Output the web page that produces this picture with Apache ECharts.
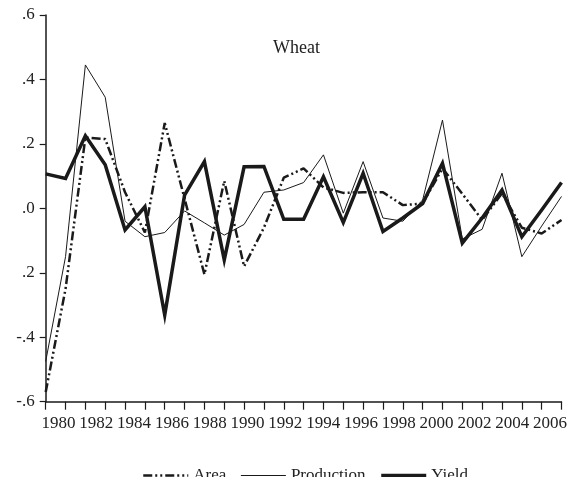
<!DOCTYPE html>
<html>
<head>
<meta charset="utf-8">
<script src="https://cdn.jsdelivr.net/npm/echarts@6/dist/echarts.min.js"></script>
<style>
  html, body { margin: 0; padding: 0; background: #fff; }
  #main { width: 570px; height: 477px; }
</style>
</head>
<body>
<div id="main"></div>
<script>
// years on the x axis
var years = [];
for (var y = 1980; y <= 2006; y++) years.push(String(y));

// growth rates
var area = [-0.57, -0.25, 0.22, 0.215, 0.05, -0.075, 0.265, 0.03, -0.205, 0.085,
  -0.18, -0.06, 0.095, 0.124, 0.065, 0.048, 0.05, 0.05, 0.01, 0.015,
  0.124, 0.045, -0.036, 0.047, -0.06, -0.078, -0.036];
var production = [-0.475, -0.15, 0.445, 0.345, -0.04, -0.088, -0.075, -0.008, -0.045, -0.083,
  -0.05, 0.05, 0.057, 0.08, 0.166, -0.015, 0.145, -0.03, -0.04, 0.026,
  0.274, -0.095, -0.065, 0.109, -0.15, -0.055, 0.037];
var yieldData = [0.107, 0.093, 0.225, 0.135, -0.067, 0.005, -0.331, 0.041, 0.145, -0.16,
  0.129, 0.13, -0.034, -0.034, 0.098, -0.044, 0.109, -0.072, -0.03, 0.015,
  0.14, -0.108, -0.03, 0.057, -0.088, -0.005, 0.08];

// y tick labels as printed (the -.2 one has no minus in the original)
var yTickValues = [6, 4, 2, 0, -2, -4, -6];
var yTickLabels = ['.6', '.4', '.2', '.0', '.2', '-.4', '-.6'];

var font = 'Liberation Serif';
var ink = '#1a1a1a';

// year labels are squeezed a bit, so shift each one slightly
var rich = {};
for (var k = 0; k < 14; k++) {
  var off = 12.8 - 1.87 * k;
  rich['r' + k] = {
    fontFamily: font, fontSize: 17, color: '#222',
    padding: off > 0 ? [0, 0, 0, 2 * off] : [0, -2 * off, 0, 0]
  };
}

var chart = echarts.init(document.getElementById('main'));
var option = {
  animation: false,
  backgroundColor: '#fff',
  title: {
    text: 'Wheat',
    left: 268,
    top: 34,
    textStyle: { fontFamily: font, fontSize: 18, fontWeight: 'normal', color: '#222' }
  },
  legend: {
    left: 137,
    top: 462,
    itemWidth: 45,
    itemHeight: 14,
    itemGap: 14,
    // hide the marker circle, keep the line sample
    itemStyle: { color: 'rgba(0,0,0,0)', borderColor: 'rgba(0,0,0,0)', borderWidth: 0 },
    textStyle: { fontFamily: font, fontSize: 17, color: '#222' },
    data: [
      { name: 'Area', lineStyle: { width: 2.5 } },
      { name: 'Production', lineStyle: { width: 1.2 } },
      { name: 'Yield', lineStyle: { width: 3.5 } }
    ]
  },
  grid: { left: 45.7, right: 7.3, top: 15, bottom: 75.3 },
  xAxis: {
    type: 'category',
    data: years,
    boundaryGap: false,
    axisLine: { onZero: false, lineStyle: { color: ink, width: 1.5 } },
    axisTick: { interval: 0, length: 8, lineStyle: { color: ink, width: 1.2 } },
    axisLabel: {
      interval: 1,
      margin: 13,
      fontFamily: font,
      fontSize: 17,
      color: '#222',
      formatter: function (v, i) { return '{r' + (i / 2) + '|' + v + '}'; },
      rich: rich
    },
    splitLine: { show: false }
  },
  yAxis: {
    type: 'value',
    min: -0.6,
    max: 0.6,
    interval: 0.2,
    axisLine: { show: true, lineStyle: { color: ink, width: 1.5 } },
    axisTick: { show: true, length: 6, lineStyle: { color: ink, width: 1.2 } },
    axisLabel: {
      margin: 11,
      fontFamily: font,
      fontSize: 17,
      color: '#222',
      formatter: function (v) {
        var idx = yTickValues.indexOf(Math.round(v * 10));
        return idx >= 0 ? yTickLabels[idx] : '';
      }
    },
    splitLine: { show: false }
  },
  series: [
    {
      name: 'Area', type: 'line', data: area, symbol: 'none',
      lineStyle: { color: ink, width: 2.5, type: [9, 3, 2, 3, 2, 3], cap: 'butt' },
      itemStyle: { color: ink }
    },
    {
      name: 'Production', type: 'line', data: production, symbol: 'none',
      lineStyle: { color: ink, width: 1 },
      itemStyle: { color: ink }
    },
    {
      name: 'Yield', type: 'line', data: yieldData, symbol: 'none',
      lineStyle: { color: ink, width: 3.5, join: 'miter' },
      itemStyle: { color: ink }
    }
  ]
};
chart.setOption(option);
</script>
</body>
</html>
